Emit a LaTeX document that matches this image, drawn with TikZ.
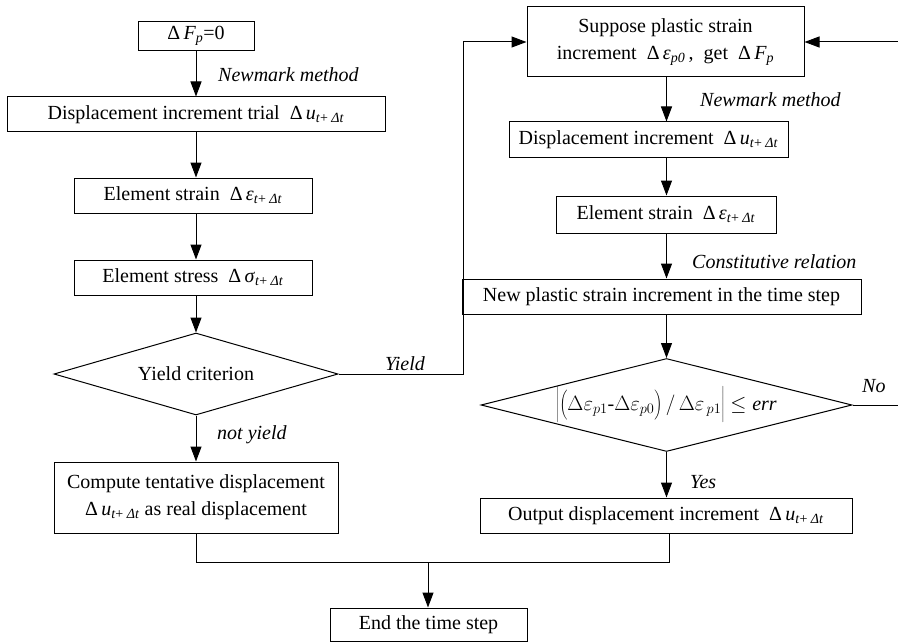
\documentclass[tikz,border=0pt]{standalone}
\usepackage{fontspec}
\setmainfont{Liberation Serif}
\usetikzlibrary{shapes.geometric,arrows.meta}
\newcommand{\mysub}[1]{\textsubscript{#1}}
\newcommand{\tdt}{\mysub{\textit{t}+ \textit{Δt}}}
\begin{document}
\begin{tikzpicture}[x=1pt,y=-1pt,
  font=\fontsize{20}{27}\selectfont,
  box/.style={draw,line width=1pt,inner sep=0pt,align=center},
  dia/.style={draw,line width=1pt,diamond,inner sep=0pt},
  lab/.style={anchor=west,inner sep=0pt,font=\fontsize{20}{24}\selectfont\itshape},
  arr/.style={line width=1pt,-{Triangle[length=15pt,width=11pt]}},
  ln/.style={line width=1pt}]
\useasboundingbox (0,0) rectangle (898,642);
% left column
\node[box,minimum width=116pt,minimum height=29pt] (f0) at (196,36) {Δ\,\textit{F}\mysub{\textit{p}}=0};
\node[box,minimum width=378pt,minimum height=35pt] (disp) at (196,114.5) {Displacement increment trial \ Δ\,\textit{u}\tdt};
\node[box,minimum width=238pt,minimum height=35pt] (strain) at (193,195.5) {Element strain \ Δ\,\textit{ε}\tdt};
\node[box,minimum width=238pt,minimum height=35pt] (stress) at (193,277.5) {Element stress \ Δ\,\textit{σ}\tdt};
\node[dia,minimum width=284pt,minimum height=82pt] (yield) at (196,374) {};
\node at (yield) {Yield criterion};
\node[box,minimum width=284pt,minimum height=71pt] (comp) at (196,497.5) {Compute tentative displacement\\Δ\,\textit{u}\tdt{} as real displacement};
% right column
\node[box,minimum width=277pt,minimum height=70pt] (sup) at (665.5,42) {Suppose plastic strain\\increment \ Δ\,\textit{ε}\mysub{\textit{p0}}\,,\ \ get \ Δ\,\textit{F}\mysub{\textit{p}}};
\node[box,minimum width=279pt,minimum height=35pt] (disp2) at (648.5,139.5) {Displacement increment \ Δ\,\textit{u}\tdt};
\node[box,minimum width=220pt,minimum height=37pt] (strain2) at (666,214.5) {Element strain \ Δ\,\textit{ε}\tdt};
\node[box,minimum width=399pt,minimum height=35pt] (newp) at (661.5,296.5) {New plastic strain increment in the time step};
\node[dia,minimum width=371pt,minimum height=93pt] (crit) at (666.5,405) {};
\node at (crit) {$\left|\left(\rule[-11pt]{0pt}{32pt}\Delta\varepsilon_{p1}\mbox{-}\Delta\varepsilon_{p0}\right)/\,\Delta\varepsilon_{\,p1}\rule[-14pt]{0pt}{38pt}\right|\le \mathit{err}$};
\node[box,minimum width=372pt,minimum height=35pt] (out) at (666,515.5) {Output displacement increment \ Δ\,\textit{u}\tdt};
\node[box,minimum width=197pt,minimum height=33pt] (end) at (428.5,624.5) {End the time step};
% coordinates
\coordinate (yc) at (463,374);
\coordinate (rin) at (899,42);
\coordinate (rno) at (899,405);
\coordinate (jl) at (196,562);
\coordinate (jr) at (669,562);
\coordinate (jm) at (428,562);
% connectors left
\draw[arr] (f0) -- (disp);
\draw[arr] (disp.south -| f0) -- (strain.north -| f0);
\draw[arr] (strain.south -| f0) -- (stress.north -| f0);
\draw[arr] (stress.south -| f0) -- (yield.north);
\draw[arr] (yield.south) -- (comp.north);
\draw[arr] (yield.east) -- (yc) |- (sup.west);
\draw[arr] (rin) -- (sup.east);
% connectors right
\draw[arr] (sup.south -| crit) -- (disp2.north -| crit);
\draw[arr] (disp2.south -| crit) -- (strain2.north -| crit);
\draw[arr] (strain2.south -| crit) -- (newp.north -| crit);
\draw[arr] (newp.south -| crit) -- (crit.north);
\draw[arr] (crit.south) -- (out.north -| crit);
\draw[ln] (crit.east) -- (rno);
% join
\draw[ln] (comp.south) -- (jl) -- (jr) -- (out.south -| jr);
\draw[arr] (jm) -- (end.north -| jm);
% labels
\node[lab] at (218,75) {Newmark method};
\node[lab] at (385,364) {Yield};
\node[lab] at (217,435) {not yield};
\node[lab] at (700,100) {Newmark method};
\node[lab] at (692,262) {Constitutive relation};
\node[lab] at (862,386) {No};
\node[lab] at (690,482) {Yes};
\end{tikzpicture}
\end{document}
